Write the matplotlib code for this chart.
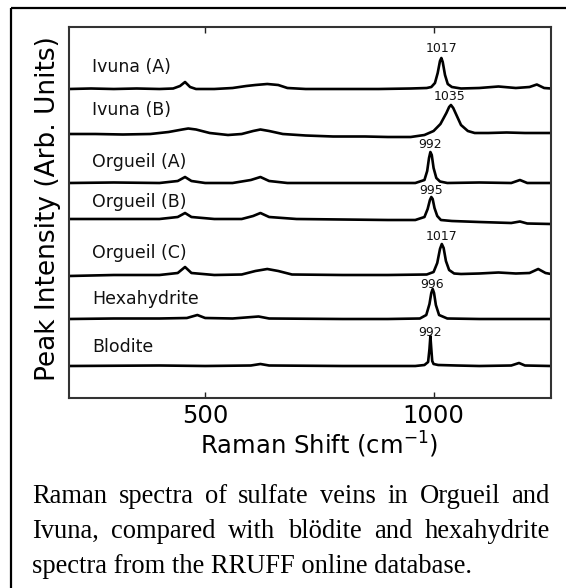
import matplotlib
matplotlib.use("Agg")
import matplotlib.pyplot as plt
from matplotlib.lines import Line2D

W, H, DPI = 566, 588, 100

# ---------------- data ----------------
names = ["Ivuna (A)", "Ivuna (B)", "Orgueil (A)", "Orgueil (B)",
         "Orgueil (C)", "Hexahydrite", "Blodite"]
peak_labels = ["1017", "1035", "992", "995", "1017", "996", "992"]
offsets = [309, 261, 215, 174, 122, 79, 32]          # vertical stacking (arb. units)

ivuna_a_x = [202, 250, 300, 350, 400, 430, 445, 456, 467, 480, 520, 560, 590, 610, 636,
             660, 680, 720, 800, 880, 950, 985, 995, 1003, 1009, 1014, 1017, 1020, 1025,
             1031, 1040, 1060, 1100, 1142, 1180, 1210, 1226, 1242, 1257]
ivuna_a_y = [0, 0.5, 0, 0.5, 0, 0.5, 3, 7, 2, 0, 0, 1, 3, 4, 5,
             4, 1, 0, 0, 0, 0.5, 1, 2, 6, 16, 28, 31, 27, 14,
             5, 2, 0.5, 1, 2.5, 1, 2, 4.5, 1, 0.5]

ivuna_b_x = [202, 260, 320, 380, 420, 450, 463, 480, 510, 550, 580, 605, 621, 640, 670,
             720, 780, 850, 900, 950, 980, 1000, 1015, 1028, 1034, 1038, 1043, 1050, 1060,
             1075, 1090, 1120, 1160, 1200, 1257]
ivuna_b_y = [3, 3, 2.5, 3, 5, 7.5, 8.5, 7.5, 4, 2, 3, 6, 7.5, 6, 3,
             1.5, 0.5, 0.5, 0, 0, 2, 6, 13, 24, 30, 32, 29, 22, 12,
             6, 4, 4, 4.5, 4, 4]

orgueil_a_x = [202, 300, 400, 440, 456, 470, 500, 560, 600, 621, 640, 680, 800, 900,
               960, 980, 986, 990, 993, 996, 1000, 1006, 1014, 1030, 1100, 1170, 1189,
               1205, 1257]
orgueil_a_y = [0, 0.5, 0, 2, 6, 2, 0, 0, 3, 6, 2, 0, 0, 0,
               0, 3, 12, 25, 31, 28, 15, 5, 1.5, 0, 0.5, 0, 3,
               0, 0]

orgueil_b_x = [202, 300, 400, 440, 456, 470, 520, 580, 605, 621, 640, 700, 800, 900,
               960, 980, 987, 992, 995, 998, 1002, 1008, 1016, 1040, 1100, 1170, 1189,
               1205, 1257]
orgueil_b_y = [5, 5, 5, 7, 11, 7, 5, 5, 8, 11, 7, 5, 4.5, 4,
               4, 7, 15, 24, 27, 25, 16, 8, 4, 3, 2, 1, 2.5,
               0.5, 0]

orgueil_c_x = [202, 300, 400, 440, 456, 470, 520, 580, 610, 636, 660, 690, 800, 900,
               985, 1000, 1008, 1014, 1018, 1022, 1027, 1034, 1045, 1060, 1100, 1142,
               1180, 1210, 1229, 1245, 1257]
orgueil_c_y = [0, 1, 1, 3, 9, 3, 1, 1.5, 5, 7, 5, 1.5, 1, 1,
               1.5, 4, 13, 27, 32, 28, 15, 6, 2.5, 2, 2.5, 3.5,
               2.5, 3, 7, 3, 2]

hexahydrite_x = [202, 300, 400, 460, 483, 500, 560, 617, 640, 800, 900, 970, 984, 991,
                 995, 998, 1001, 1005, 1012, 1030, 1100, 1257]
hexahydrite_y = [0, 0.5, 0.5, 1, 4, 1, 0.5, 2.5, 0.5, 0, 0, 0.5, 4, 15,
                 26, 30, 26, 14, 4, 0.5, 0, 0]

blodite_x = [202, 400, 500, 600, 621, 640, 800, 960, 980, 988, 991, 993, 995, 997,
             1000, 1010, 1050, 1100, 1170, 1187, 1200, 1257]
blodite_y = [0, 0.5, 0, 0.5, 2, 0.5, 0, 0, 1, 4, 17, 30, 17, 5,
             2, 1, 0.5, 0, 0.5, 3, 0.5, 0]

xs = [ivuna_a_x, ivuna_b_x, orgueil_a_x, orgueil_b_x, orgueil_c_x, hexahydrite_x, blodite_x]
ys = [ivuna_a_y, ivuna_b_y, orgueil_a_y, orgueil_b_y, orgueil_c_y, hexahydrite_y, blodite_y]

x_ticks = [500, 1000]

caption_lines = [
    "Raman spectra of sulfate veins in Orgueil and",
    "Ivuna, compared with blödite and hexahydrite",
    "spectra from the RRUFF online database.",
]

# ---------------- figure ----------------
fig = plt.figure(figsize=(W / DPI, H / DPI), dpi=DPI)
fig.patch.set_facecolor("white")

def fx(px):
    return px / W

def fy(py):
    return 1 - py / H

# outer frame (runs off the right and bottom of the picture)
fig.add_artist(Line2D([fx(11), 1.01], [fy(8), fy(8)], transform=fig.transFigure,
                      color="black", lw=1.6, solid_capstyle="butt"))
fig.add_artist(Line2D([fx(11), fx(11)], [fy(8), -0.01], transform=fig.transFigure,
                      color="black", lw=1.6, solid_capstyle="butt"))

ax_l, ax_r, ax_t, ax_b = 69, 551, 27, 398
ax = fig.add_axes([fx(ax_l), fy(ax_b), fx(ax_r - ax_l), (ax_b - ax_t) / H])
ax.set_xlim(202, 1257)
ax.set_ylim(0, ax_b - ax_t)

for x, y, off in zip(xs, ys, offsets):
    ax.plot(x, [v + off for v in y], color="black", lw=1.9, solid_joinstyle="round")

name_rows = [22, 27, 21, 22, 23, 20, 19]
for name, off, dy in zip(names, offsets, name_rows):
    ax.text(252, off + dy, name, fontsize=12.5, ha="left", va="center", color="#111")

label_gap = [9, 9, 8, 7, 7, 4, 4]
for lab, x, y, off, g in zip(peak_labels, xs, ys, offsets, label_gap):
    ax.text(float(lab), off + max(y) + g, lab, fontsize=9, ha="center",
            va="center", color="#111")

ax.set_yticks([])
ax.set_xticks(x_ticks)
ax.set_xticklabels([str(t) for t in x_ticks])
ax.tick_params(axis="x", direction="in", top=True, bottom=True, length=4, width=1,
               labelsize=17.5, pad=4, colors="#222", labelcolor="black")
for s in ax.spines.values():
    s.set_linewidth(1.5)
    s.set_color("#333")

fig.text(fx(319), fy(454), r"Raman Shift (cm$^{-1}$)", fontsize=17.5,
         ha="center", va="baseline")
fig.text(fx(48), fy(209), "Peak Intensity (Arb. Units)", fontsize=19,
         rotation=90, ha="center", va="center")

# ---------------- justified caption ----------------
renderer = fig.canvas.get_renderer()
cap_left, cap_right = 32, 550
baselines = [503, 538, 573]

def width_px(s, size):
    t = fig.text(0, 0, s, fontsize=size, family="Liberation Serif")
    w = t.get_window_extent(renderer).width
    t.remove()
    return w

# choose size so the last (ragged) line has its measured width
target_last = 473 - cap_left
size = 10 * target_last / width_px(caption_lines[-1], 10)

for i, (line, yb) in enumerate(zip(caption_lines, baselines)):
    words = line.split(" ")
    if i == len(caption_lines) - 1:
        fig.text(fx(cap_left), fy(yb), line, fontsize=size, family="Liberation Serif",
                 ha="left", va="baseline")
        continue
    ws = [width_px(w, size) for w in words]
    gap = (cap_right - cap_left - sum(ws)) / (len(words) - 1)
    xpos = cap_left
    for w, wd in zip(words, ws):
        fig.text(fx(xpos), fy(yb), w, fontsize=size, family="Liberation Serif",
                 ha="left", va="baseline")
        xpos += wd + gap

fig.savefig("out.png", dpi=DPI)
